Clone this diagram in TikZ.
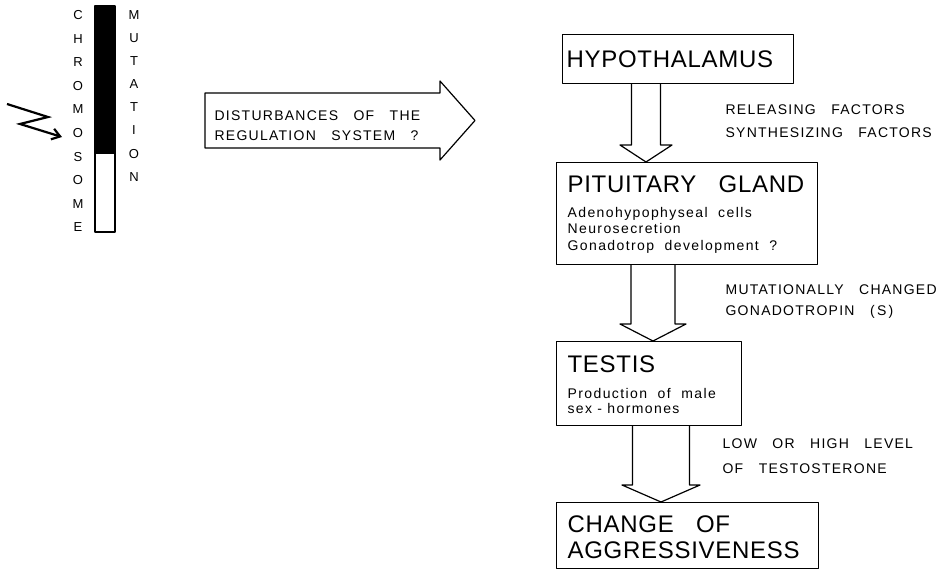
\documentclass[tikz,border=0pt]{standalone}
\usepackage{fontspec}
\setmainfont{Liberation Sans}
\newfontfamily\titlefont[LetterSpace=3]{Liberation Sans}
\newfontfamily\notefont[LetterSpace=9]{Liberation Sans}
\newfontfamily\detailfont[LetterSpace=10]{Liberation Sans}
\usetikzlibrary{calc,arrows.meta}
\tikzset{
    hollow arrow/.style n args={4}{
        insert path={
            let \p1 = (#1), \p2 = (#2) in     % Start on box, tip on next box
            (\x1-#3,\y1) -- (\x1-#3,\y2+17pt) -- (\x1-#4,\y2+17pt) % Left side of shaft and head
            -- (\x1,\y2)                                           % Tip
            -- (\x1+#4,\y2+17pt) -- (\x1+#3,\y2+17pt) -- (\x1+#3,\y1) % Right side
        }
    }
}
\begin{document}
\begin{tikzpicture}[x=1pt,y=-1pt,line width=1.2pt,line join=round]
  % Colors
    \colorlet{inkcolor}{black}

  % Styles
    \tikzstyle{box}=[draw=inkcolor,anchor=north west,inner sep=0pt]
    \tikzstyle{title}=[anchor=base west,inner sep=0pt,font=\titlefont\fontsize{24}{24}\selectfont]
    \tikzstyle{note}=[anchor=base west,inner sep=0pt,font=\notefont\fontsize{14}{14}\selectfont]
    \tikzstyle{detail}=[anchor=base west,inner sep=0pt,font=\detailfont\fontsize{14}{14}\selectfont]
    \tikzstyle{letter}=[inner sep=0pt,font=\fontsize{13}{13}\selectfont]

  % The graphic
    \useasboundingbox (0,0) rectangle (950,581);

  % Chromosome with the mutation
    \draw (95,6) rectangle (115,232);
    \fill[inkcolor] (95,6) rectangle (115,154);
    \foreach \l [count=\i] in {C,H,R,O,M,O,S,O,M,E}
      \node[letter] (c\i) at (78,{15+23.6*(\i-1)}) {\l};
    \foreach \l [count=\i] in {M,U,T,A,T,I,O,N}
      \node[letter] (m\i) at (134,{15+23.1*(\i-1)}) {\l};
    \draw[line width=2.2pt,line join=miter,-{Straight Barb[length=8pt,width=11pt]}]
      (7,104) -- (48,117) -- (20,124) -- (62,137);

  % Big arrow to the regulation system
    \draw (440,93) -- (205,93) -- (205,148) -- (440,148) -- (440,160)
      -- (475,120.5) -- (440,81) -- cycle;
    \node[note] (dist1) at (214,120) {DISTURBANCES\ \ \ OF\ \ \ THE};
    \node[note] (dist2) at (214,140) {REGULATION\ \ \ SYSTEM\ \ \ ?};

  % Boxes
    \node[box,minimum width=231pt,minimum height=49pt] (hyp) at (562,34) {};
    \node[box,minimum width=261pt,minimum height=102pt] (pit) at (556,162) {};
    \node[box,minimum width=185pt,minimum height=84pt] (tes) at (556,341) {};
    \node[box,minimum width=262pt,minimum height=66pt] (chg) at (556,502) {};

    \node[title] (hyptext) at (566,67) {HYPOTHALAMUS};
    \node[title] (pittext) at (567,192) {PITUITARY\ \ \ GLAND};
    \foreach \y/\t [count=\i] in {217/Adenohypophyseal\ \ cells,233/Neurosecretion,250/Gonadotrop\ \ development\ \ ?}
      \node[detail] (pit\i) at (567,\y) {\t};
    \node[title] (testext) at (567,372) {TESTIS};
    \foreach \y/\t [count=\i] in {398/Production\ \ of\ \ male,413/sex\ -\ hormones}
      \node[detail] (tes\i) at (567,\y) {\t};
    \node[title] (chg1) at (567,532) {CHANGE\ \ \ OF};
    \node[title] (chg2) at (567,558) {AGGRESSIVENESS};

  % Hollow arrows between the boxes
    \coordinate (a1) at (646,0);
    \coordinate (a2) at (653,0);
    \coordinate (a3) at (661,0);
    \draw [hollow arrow={a1 |- hyp.south}{a1 |- pit.north}{14.5pt}{26pt}];
    \draw [hollow arrow={a2 |- pit.south}{a2 |- tes.north}{22pt}{33pt}];
    \draw [hollow arrow={a3 |- tes.south}{a3 |- chg.north}{28.5pt}{39pt}];

  % What passes along the arrows
    \node[note] (rel1) at (725,114) {RELEASING\ \ \ FACTORS};
    \node[note] (rel2) at (725,137) {SYNTHESIZING\ \ \ FACTORS};
    \node[note] (mut1) at (725,294) {MUTATIONALLY\ \ \ CHANGED};
    \node[note] (mut2) at (725,315) {GONADOTROPIN\ \ \ (\,S\,)};
    \node[note] (low1) at (722,448) {LOW\ \ \ OR\ \ \ HIGH\ \ \ LEVEL};
    \node[note] (low2) at (722,473) {OF\ \ \ TESTOSTERONE};
\end{tikzpicture}
\end{document}
